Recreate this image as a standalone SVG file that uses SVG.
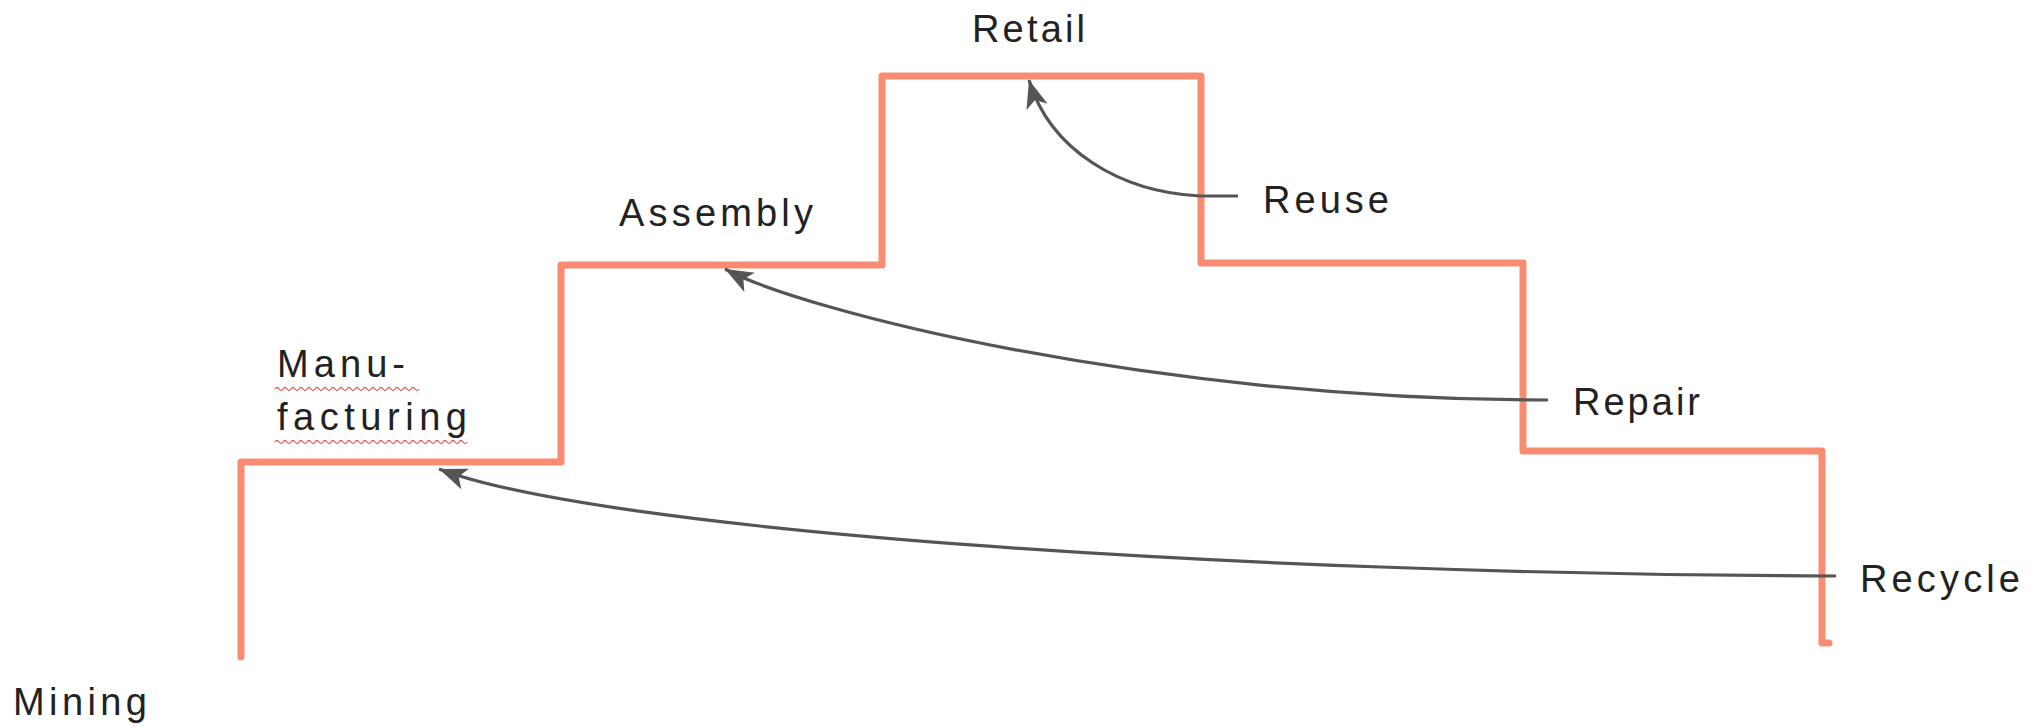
<svg xmlns="http://www.w3.org/2000/svg" width="2038" height="727" viewBox="0 0 2038 727">
<style>
.stair{fill:none;stroke:#F98B73;stroke-width:7;stroke-linejoin:round;stroke-linecap:round}
.conn{fill:none;stroke:#555555;stroke-width:3.2}
.lbl{font-family:"Liberation Sans",Arial,sans-serif;font-size:38px;fill:#222222}
.squig{fill:none;stroke:#E06060;stroke-width:1.3}
</style>
<defs>
<marker id="ah" markerUnits="userSpaceOnUse" markerWidth="30" markerHeight="24" viewBox="0 0 30 24" refX="28" refY="12" orient="auto">
<path d="M0,1 L28,12 L0,23 L7,12 z" fill="#555555"/>
</marker>
</defs>
<g id="staircase">
<path class="stair" d="M241,657 L241,462 L561,462 L561,265 L882,265 L882,76 L1201,76 L1201,263 L1523,263 L1523,451 L1822,451 L1822,643 L1829,643"/>
</g>
<g id="connectors">
<path class="conn" d="M1238,196 L1200,196 C1120,192 1050,150 1029,80" marker-end="url(#ah)"/>
<path class="conn" d="M1548,400 C1150,400 800,310 725,269" marker-end="url(#ah)"/>
<path class="conn" d="M1836,576 C1220,574 600,530 439,469" marker-end="url(#ah)"/>
</g>
<g id="mining"><text class="lbl" x="13" y="715" textLength="134" lengthAdjust="spacing">Mining</text></g>
<g id="manufacturing">
<text class="lbl" x="277" y="377" textLength="128" lengthAdjust="spacing">Manu-</text>
<text class="lbl" x="277" y="430" textLength="190" lengthAdjust="spacing">facturing</text>
<path class="squig" d="M275,389 q2,-3 4,0 t4,0 t4,0 t4,0 t4,0 t4,0 t4,0 t4,0 t4,0 t4,0 t4,0 t4,0 t4,0 t4,0 t4,0 t4,0 t4,0 t4,0 t4,0 t4,0 t4,0 t4,0 t4,0 t4,0 t4,0 t4,0 t4,0 t4,0 t4,0 t4,0 t4,0 t4,0 t4,0 t4,0 t4,0 t4,0"/>
<path class="squig" d="M275,442 q2,-3 4,0 t4,0 t4,0 t4,0 t4,0 t4,0 t4,0 t4,0 t4,0 t4,0 t4,0 t4,0 t4,0 t4,0 t4,0 t4,0 t4,0 t4,0 t4,0 t4,0 t4,0 t4,0 t4,0 t4,0 t4,0 t4,0 t4,0 t4,0 t4,0 t4,0 t4,0 t4,0 t4,0 t4,0 t4,0 t4,0 t4,0 t4,0 t4,0 t4,0 t4,0 t4,0 t4,0 t4,0 t4,0 t4,0 t4,0 t4,0"/>
</g>
<g id="assembly"><text class="lbl" x="619" y="226" textLength="194" lengthAdjust="spacing">Assembly</text></g>
<g id="retail"><text class="lbl" x="972" y="42" textLength="113" lengthAdjust="spacing">Retail</text></g>
<g id="reuse"><text class="lbl" x="1263" y="213" textLength="126" lengthAdjust="spacing">Reuse</text></g>
<g id="repair"><text class="lbl" x="1573" y="415" textLength="127" lengthAdjust="spacing">Repair</text></g>
<g id="recycle"><text class="lbl" x="1860" y="592" textLength="160" lengthAdjust="spacing">Recycle</text></g>
</svg>
